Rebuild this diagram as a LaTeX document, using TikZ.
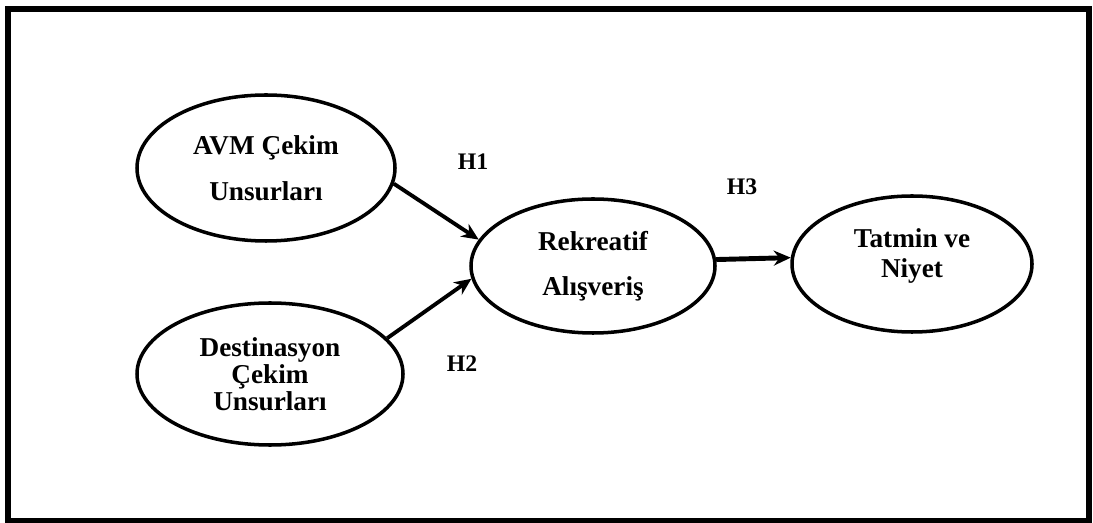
\documentclass[tikz,border=0pt]{standalone}
\usepackage{fontspec}
\setmainfont{Liberation Serif}
\usetikzlibrary{positioning,arrows.meta,shapes.geometric}
\tikzset{
  yapi/.style    = {draw, ellipse, line width=2pt, inner sep=0pt, align=center,
                    font=\fontsize{15.5}{17}\selectfont\bfseries},
  etiket/.style  = {font=\fontsize{13.5}{16}\selectfont\bfseries, inner sep=1pt},
  ok/.style      = {-{Stealth[length=3.4mm, width=3mm]}, line width=2.2pt},
  okkalin/.style = {ok, line width=2.8pt},
  cerceve/.style = {line width=3.4pt}
}

\begin{document}
\begin{tikzpicture}[on grid]
		\useasboundingbox (0,0) rectangle (21.86,-10.46);
		\draw[cerceve] (0.16,-0.18) rectangle (21.78,-10.42);

		\node[yapi, minimum width=48.8mm, minimum height=26.8mm] (rek) at (11.86,-5.32) {Rekreatif\\[8.5pt] Alışveriş};
		\node[yapi, minimum width=51.6mm, minimum height=29.2mm, above left=19.6mm and 65.4mm of rek] (avm) {AVM Çekim\\[9pt] Unsurları};
		\node[yapi, minimum width=53.2mm, minimum height=28.4mm, below left=21.6mm and 64.6mm of rek] (dest) {Destinasyon\\[-1.7pt] Çekim\\[-1.7pt] Unsurları};
		\node[yapi, minimum width=48mm, minimum height=27.2mm, text depth=12.5pt, above right=0.4mm and 63.8mm of rek] (tatmin) {Tatmin ve\\ Niyet};

		\node[etiket, above left=20.8mm and 24mm of rek] (h1) {H1};
		\node[etiket, below left=19.6mm and 26.2mm of rek] (h2) {H2};
		\node[etiket, above right=15.8mm and 29.8mm of rek] (h3) {H3};

		\draw[ok] (avm.-7) -- (rek.167);
		\draw[ok] (dest.17) -- (rek.186);
		\draw[okkalin] (rek.3) -- (tatmin.177);
	\end{tikzpicture}
\end{document}
